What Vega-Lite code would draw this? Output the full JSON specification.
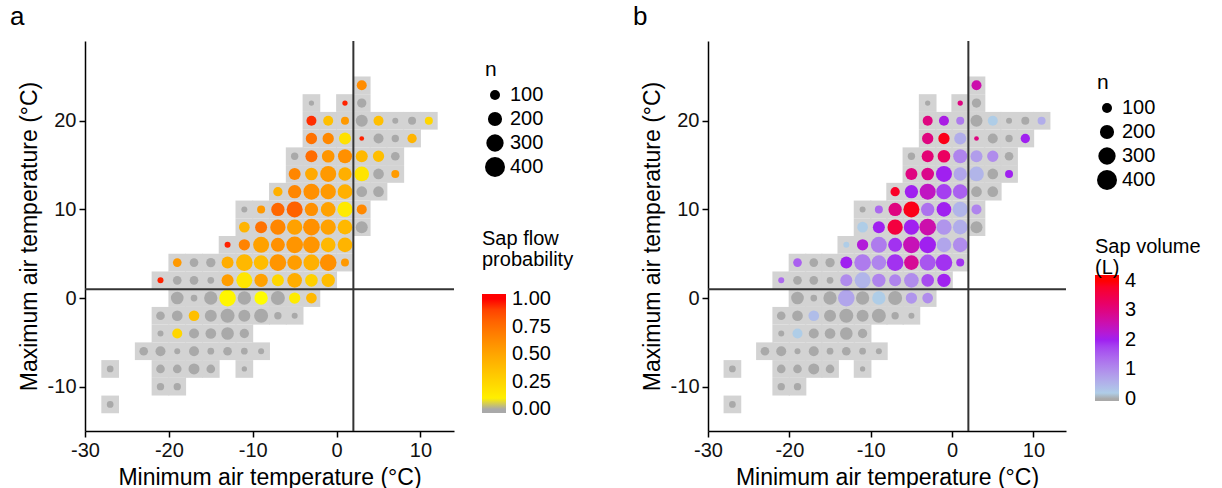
{
  "$schema": "https://vega.github.io/schema/vega-lite/v6.json",
  "padding": {"left": 10, "top": 4, "right": 2, "bottom": 2},
  "datasets": {
    "cells": [
      {"x": 3, "y": 24, "n": 100, "p": 0.62, "v": 2.6},
      {"x": -3, "y": 22, "n": 28, "p": 0, "v": 0},
      {"x": 1, "y": 22, "n": 28, "p": 0.97, "v": 3.0},
      {"x": 3, "y": 22, "n": 87, "p": 0, "v": 0},
      {"x": -3, "y": 20, "n": 100, "p": 0.95, "v": 3.0},
      {"x": -1, "y": 20, "n": 100, "p": 0.36, "v": 2.1},
      {"x": 1, "y": 20, "n": 64, "p": 0.56, "v": 1.2},
      {"x": 3, "y": 20, "n": 144, "p": 0, "v": 0},
      {"x": 5, "y": 20, "n": 100, "p": 0.36, "v": 0.2},
      {"x": 7, "y": 20, "n": 36, "p": 0, "v": 0},
      {"x": 9, "y": 20, "n": 64, "p": 0, "v": 0},
      {"x": 11, "y": 20, "n": 64, "p": 0.24, "v": 0.6},
      {"x": -3, "y": 18, "n": 128, "p": 0.74, "v": 3.0},
      {"x": -1, "y": 18, "n": 128, "p": 0.64, "v": 3.9},
      {"x": 1, "y": 18, "n": 144, "p": 0.18, "v": 0.6},
      {"x": 3, "y": 18, "n": 22, "p": 0.97, "v": 3.0},
      {"x": 5, "y": 18, "n": 100, "p": 0, "v": 0},
      {"x": 7, "y": 18, "n": 54, "p": 0, "v": 0},
      {"x": 9, "y": 18, "n": 87, "p": 0.42, "v": 2.0},
      {"x": -5, "y": 16, "n": 54, "p": 0, "v": 0},
      {"x": -3, "y": 16, "n": 144, "p": 0.76, "v": 3.1},
      {"x": -1, "y": 16, "n": 160, "p": 0.58, "v": 3.3},
      {"x": 1, "y": 16, "n": 196, "p": 0.6, "v": 1.1},
      {"x": 3, "y": 16, "n": 144, "p": 0.4, "v": 0.8},
      {"x": 5, "y": 16, "n": 128, "p": 0.37, "v": 1.0},
      {"x": 7, "y": 16, "n": 75, "p": 0, "v": 0},
      {"x": -5, "y": 14, "n": 144, "p": 0.65, "v": 3.0},
      {"x": -3, "y": 14, "n": 160, "p": 0.48, "v": 2.9},
      {"x": -1, "y": 14, "n": 256, "p": 0.56, "v": 2.0},
      {"x": 1, "y": 14, "n": 178, "p": 0.45, "v": 0.7},
      {"x": 3, "y": 14, "n": 215, "p": 0.16, "v": 0.5},
      {"x": 5, "y": 14, "n": 114, "p": 0, "v": 0},
      {"x": 7, "y": 14, "n": 64, "p": 0.55, "v": 2.0},
      {"x": -7, "y": 12, "n": 87, "p": 0.44, "v": 3.8},
      {"x": -5, "y": 12, "n": 178, "p": 0.65, "v": 2.0},
      {"x": -3, "y": 12, "n": 256, "p": 0.6, "v": 2.4},
      {"x": -1, "y": 12, "n": 235, "p": 0.56, "v": 1.8},
      {"x": 1, "y": 12, "n": 215, "p": 0.44, "v": 1.5},
      {"x": 3, "y": 12, "n": 114, "p": 0, "v": 0},
      {"x": 5, "y": 12, "n": 114, "p": 0, "v": 0},
      {"x": -11, "y": 10, "n": 36, "p": 0, "v": 0},
      {"x": -9, "y": 10, "n": 64, "p": 0.56, "v": 1.4},
      {"x": -7, "y": 10, "n": 178, "p": 0.78, "v": 3.0},
      {"x": -5, "y": 10, "n": 256, "p": 0.8, "v": 3.9},
      {"x": -3, "y": 10, "n": 178, "p": 0.6, "v": 1.3},
      {"x": -1, "y": 10, "n": 215, "p": 0.52, "v": 2.0},
      {"x": 1, "y": 10, "n": 235, "p": 0.13, "v": 0.5},
      {"x": 3, "y": 10, "n": 100, "p": 0.64, "v": 1.1},
      {"x": -11, "y": 8, "n": 114, "p": 0.42, "v": 0.2},
      {"x": -9, "y": 8, "n": 144, "p": 0.74, "v": 2.0},
      {"x": -7, "y": 8, "n": 235, "p": 0.65, "v": 3.6},
      {"x": -5, "y": 8, "n": 235, "p": 0.52, "v": 2.0},
      {"x": -3, "y": 8, "n": 278, "p": 0.6, "v": 2.6},
      {"x": -1, "y": 8, "n": 235, "p": 0.52, "v": 0.9},
      {"x": 1, "y": 8, "n": 215, "p": 0.4, "v": 0.6},
      {"x": 3, "y": 8, "n": 144, "p": 0, "v": 0},
      {"x": -13, "y": 6, "n": 36, "p": 0.97, "v": 0.2},
      {"x": -11, "y": 6, "n": 128, "p": 0.66, "v": 2.2},
      {"x": -9, "y": 6, "n": 256, "p": 0.52, "v": 1.2},
      {"x": -7, "y": 6, "n": 196, "p": 0.6, "v": 1.9},
      {"x": -5, "y": 6, "n": 278, "p": 0.58, "v": 2.5},
      {"x": -3, "y": 6, "n": 278, "p": 0.58, "v": 2.0},
      {"x": -1, "y": 6, "n": 215, "p": 0.4, "v": 0.7},
      {"x": 1, "y": 6, "n": 215, "p": 0.42, "v": 1.0},
      {"x": -19, "y": 4, "n": 75, "p": 0.56, "v": 1.5},
      {"x": -17, "y": 4, "n": 75, "p": 0, "v": 0},
      {"x": -15, "y": 4, "n": 87, "p": 0, "v": 0},
      {"x": -13, "y": 4, "n": 144, "p": 0.46, "v": 2.0},
      {"x": -11, "y": 4, "n": 278, "p": 0.4, "v": 1.2},
      {"x": -9, "y": 4, "n": 215, "p": 0.38, "v": 1.1},
      {"x": -7, "y": 4, "n": 278, "p": 0.58, "v": 1.9},
      {"x": -5, "y": 4, "n": 215, "p": 0.54, "v": 2.8},
      {"x": -3, "y": 4, "n": 256, "p": 0.44, "v": 1.6},
      {"x": -1, "y": 4, "n": 278, "p": 0.6, "v": 1.9},
      {"x": 1, "y": 4, "n": 64, "p": 0.56, "v": 1.9},
      {"x": -21, "y": 2, "n": 36, "p": 0.97, "v": 1.4},
      {"x": -19, "y": 2, "n": 75, "p": 0, "v": 0},
      {"x": -17, "y": 2, "n": 75, "p": 0, "v": 0},
      {"x": -15, "y": 2, "n": 45, "p": 0, "v": 0},
      {"x": -13, "y": 2, "n": 144, "p": 0.54, "v": 1.0},
      {"x": -11, "y": 2, "n": 256, "p": 0.15, "v": 0.5},
      {"x": -9, "y": 2, "n": 178, "p": 0.52, "v": 1.1},
      {"x": -7, "y": 2, "n": 144, "p": 0.24, "v": 1.1},
      {"x": -5, "y": 2, "n": 215, "p": 0.46, "v": 1.0},
      {"x": -3, "y": 2, "n": 160, "p": 0.27, "v": 1.7},
      {"x": -1, "y": 2, "n": 178, "p": 0.38, "v": 2.0},
      {"x": -19, "y": 0, "n": 160, "p": 0, "v": 0},
      {"x": -17, "y": 0, "n": 45, "p": 0, "v": 0},
      {"x": -15, "y": 0, "n": 178, "p": 0, "v": 0},
      {"x": -13, "y": 0, "n": 278, "p": 0.06, "v": 0.7},
      {"x": -11, "y": 0, "n": 178, "p": 0, "v": 0},
      {"x": -9, "y": 0, "n": 178, "p": 0.03, "v": 0.2},
      {"x": -7, "y": 0, "n": 196, "p": 0, "v": 0},
      {"x": -5, "y": 0, "n": 128, "p": 0.12, "v": 0.9},
      {"x": -3, "y": 0, "n": 114, "p": 0.4, "v": 1.0},
      {"x": -21, "y": -2, "n": 75, "p": 0, "v": 0},
      {"x": -19, "y": -2, "n": 114, "p": 0, "v": 0},
      {"x": -17, "y": -2, "n": 114, "p": 0.36, "v": 0.4},
      {"x": -15, "y": -2, "n": 144, "p": 0, "v": 0},
      {"x": -13, "y": -2, "n": 196, "p": 0, "v": 0},
      {"x": -11, "y": -2, "n": 144, "p": 0, "v": 0},
      {"x": -9, "y": -2, "n": 196, "p": 0, "v": 0},
      {"x": -7, "y": -2, "n": 54, "p": 0, "v": 0},
      {"x": -5, "y": -2, "n": 36, "p": 0, "v": 0},
      {"x": -21, "y": -4, "n": 36, "p": 0, "v": 0},
      {"x": -19, "y": -4, "n": 100, "p": 0.24, "v": 0.2},
      {"x": -17, "y": -4, "n": 100, "p": 0, "v": 0},
      {"x": -15, "y": -4, "n": 114, "p": 0, "v": 0},
      {"x": -13, "y": -4, "n": 160, "p": 0, "v": 0},
      {"x": -11, "y": -4, "n": 87, "p": 0, "v": 0},
      {"x": -23, "y": -6, "n": 75, "p": 0, "v": 0},
      {"x": -21, "y": -6, "n": 100, "p": 0, "v": 0},
      {"x": -19, "y": -6, "n": 36, "p": 0, "v": 0},
      {"x": -17, "y": -6, "n": 100, "p": 0, "v": 0},
      {"x": -15, "y": -6, "n": 45, "p": 0, "v": 0},
      {"x": -13, "y": -6, "n": 75, "p": 0, "v": 0},
      {"x": -11, "y": -6, "n": 45, "p": 0, "v": 0},
      {"x": -9, "y": -6, "n": 36, "p": 0, "v": 0},
      {"x": -27, "y": -8, "n": 45, "p": 0, "v": 0},
      {"x": -21, "y": -8, "n": 75, "p": 0, "v": 0},
      {"x": -19, "y": -8, "n": 75, "p": 0, "v": 0},
      {"x": -17, "y": -8, "n": 121, "p": 0, "v": 0},
      {"x": -15, "y": -8, "n": 75, "p": 0, "v": 0},
      {"x": -11, "y": -8, "n": 28, "p": 0, "v": 0},
      {"x": -21, "y": -10, "n": 54, "p": 0, "v": 0},
      {"x": -19, "y": -10, "n": 54, "p": 0, "v": 0},
      {"x": -27, "y": -12, "n": 45, "p": 0, "v": 0}
    ],
    "one": [{}]
  },
  "spacing": 59,
  "resolve": {
    "scale": {"x": "independent", "y": "independent", "color": "independent", "size": "independent"},
    "legend": {"color": "independent", "size": "independent"}
  },
  "hconcat": [
    {
      "title": {"text": "a", "anchor": "start", "frame": "bounds", "fontSize": 26, "fontWeight": "normal", "offset": 10, "dx": -8},
      "width": 369,
      "height": 390,
      "layer": [
        {
          "data": {"name": "cells"},
          "mark": {"type": "square", "size": 313, "color": "#d3d3d3", "opacity": 1},
          "encoding": {
            "x": {"field": "x", "type": "quantitative", "scale": {"domain": [-30, 14], "nice": false, "zero": false}, "axis": {"values": [-30, -20, -10, 0, 10], "labelExpr": "'' + datum.value", "labelFlush": false, "title": "Minimum air temperature (°C)"}},
            "y": {"field": "y", "type": "quantitative", "scale": {"domain": [-15, 29], "nice": false, "zero": false}, "axis": {"values": [-10, 0, 10, 20], "labelExpr": "'' + datum.value", "labelFlush": false, "title": "Maximum air temperature (°C)"}}
          }
        },
        {
          "data": {"name": "cells"},
          "mark": {"type": "circle", "opacity": 1},
          "encoding": {
            "x": {"field": "x", "type": "quantitative"},
            "y": {"field": "y", "type": "quantitative"},
            "size": {"field": "n", "type": "quantitative", "scale": {"domain": [0, 400], "range": [0, 400]},
              "legend": {"title": "n", "values": [100, 200, 300, 400], "orient": "none", "legendX": 400, "legendY": 18, "symbolFillColor": "#000", "symbolStrokeWidth": 0, "symbolOpacity": 1, "titleFontSize": 21, "labelOffset": 5, "rowPadding": 4}},
            "color": {"field": "p", "type": "quantitative",
              "scale": {"domain": [-0.035, 0, 0.012, 0.5, 1, 1.045], "range": ["#a9a9a9", "#a9a9a9", "#ffff00", "#ffa500", "#ff0000", "#ff0000"], "interpolate": "lab"},
              "legend": {"title": ["Sap flow", "\u00a0probability"], "orient": "none", "legendX": 397, "legendY": 188, "gradientLength": 119, "gradientThickness": 24, "values": [0, 0.25, 0.5, 0.75, 1], "format": ".2f", "labelOverlap": false, "titleFontSize": 20, "titleLineHeight": 21, "titlePadding": 24, "labelOffset": 6, "gradientStrokeWidth": 0}}
          }
        },
        {
          "data": {"name": "one"},
          "mark": {"type": "rule", "color": "#333333", "strokeWidth": 2},
          "encoding": {"y": {"datum": 1}}
        },
        {
          "data": {"name": "one"},
          "mark": {"type": "rule", "color": "#333333", "strokeWidth": 2},
          "encoding": {"x": {"datum": 2}}
        }
      ]
    },
    {
      "title": {"text": "b", "anchor": "start", "frame": "bounds", "fontSize": 26, "fontWeight": "normal", "offset": 10, "dx": -8},
      "width": 358,
      "height": 390,
      "layer": [
        {
          "data": {"name": "cells"},
          "mark": {"type": "square", "size": 313, "color": "#d3d3d3", "opacity": 1},
          "encoding": {
            "x": {"field": "x", "type": "quantitative", "scale": {"domain": [-30, 14], "nice": false, "zero": false}, "axis": {"values": [-30, -20, -10, 0, 10], "labelExpr": "'' + datum.value", "labelFlush": false, "title": "Minimum air temperature (°C)"}},
            "y": {"field": "y", "type": "quantitative", "scale": {"domain": [-15, 29], "nice": false, "zero": false}, "axis": {"values": [-10, 0, 10, 20], "labelExpr": "'' + datum.value", "labelFlush": false, "title": "Maximum air temperature (°C)"}}
          }
        },
        {
          "data": {"name": "cells"},
          "mark": {"type": "circle", "opacity": 1},
          "encoding": {
            "x": {"field": "x", "type": "quantitative"},
            "y": {"field": "y", "type": "quantitative"},
            "size": {"field": "n", "type": "quantitative", "scale": {"domain": [0, 400], "range": [0, 400]},
              "legend": {"title": "n", "values": [100, 200, 300, 400], "orient": "none", "legendX": 389, "legendY": 31, "symbolFillColor": "#000", "symbolStrokeWidth": 0, "symbolOpacity": 1, "titleFontSize": 21, "labelOffset": 5, "rowPadding": 4}},
            "color": {"field": "v", "type": "quantitative",
              "scale": {"domain": [-0.07, 0, 0.06, 2, 4, 4.2], "range": ["#a9a9a9", "#a9a9a9", "#add8e6", "#a020f0", "#ff0000", "#ff0000"], "interpolate": "lab"},
              "legend": {"title": ["Sap volume", "\u00a0(L)"], "orient": "none", "legendX": 387, "legendY": 196, "gradientLength": 126, "gradientThickness": 24, "values": [0, 1, 2, 3, 4], "format": "d", "labelOverlap": false, "titleFontSize": 20, "titleLineHeight": 21, "titlePadding": -3, "labelOffset": 6, "gradientStrokeWidth": 0}}
          }
        },
        {
          "data": {"name": "one"},
          "mark": {"type": "rule", "color": "#333333", "strokeWidth": 2},
          "encoding": {"y": {"datum": 1}}
        },
        {
          "data": {"name": "one"},
          "mark": {"type": "rule", "color": "#333333", "strokeWidth": 2},
          "encoding": {"x": {"datum": 2}}
        }
      ]
    }
  ],
  "config": {
    "font": "Liberation Sans",
    "view": {"stroke": null},
    "title": {"color": "#000", "font": "Liberation Sans"},
    "axis": {
      "grid": false,
      "domainColor": "#000",
      "tickColor": "#000",
      "labelColor": "#111",
      "titleColor": "#000",
      "labelFontSize": 20,
      "titleFontSize": 23,
      "titleFontWeight": "normal",
      "tickSize": 6,
      "domainWidth": 1.5,
      "tickWidth": 1.5,
      "labelPadding": 3,
      "titlePadding": 6
    },
    "legend": {
      "labelFontSize": 20,
      "titleFontSize": 21,
      "titleFontWeight": "normal",
      "labelColor": "#000",
      "titleColor": "#000"
    }
  }
}
